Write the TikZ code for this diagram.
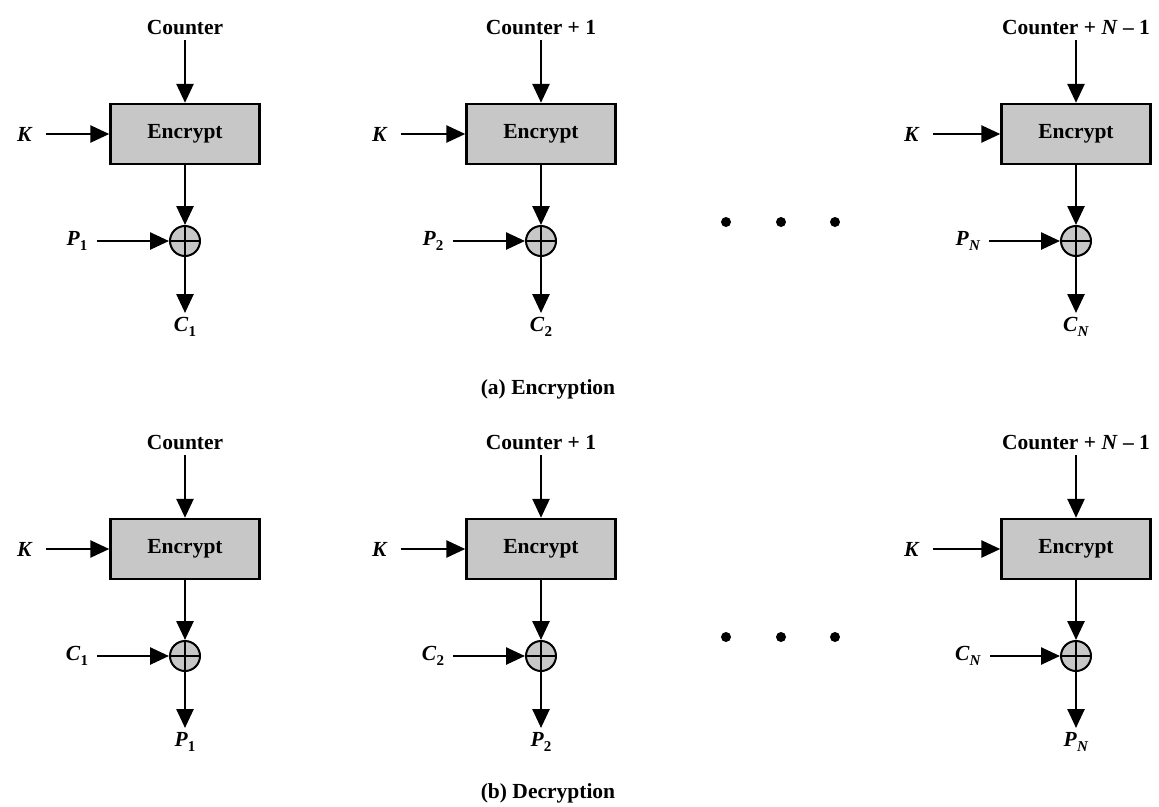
\documentclass[tikz,border=0pt]{standalone}
\usepackage{fontspec}
\setmainfont{Liberation Serif}
\usetikzlibrary{arrows.meta}
\begin{document}
\begin{tikzpicture}[x=1pt,y=-1pt,
  every node/.style={font=\fontsize{21.5}{24}\selectfont\bfseries},
  enc/.style={draw,line width=2.4pt,fill=black!22,minimum width=149pt,minimum height=60pt,inner sep=0pt},
  xorc/.style={draw,line width=2pt,fill=black!22,circle,minimum size=30pt,inner sep=0pt,path picture={
     \draw[line width=1.5pt] (path picture bounding box.north) -- (path picture bounding box.south)
       (path picture bounding box.west) -- (path picture bounding box.east);}},
  lbl/.style={inner sep=1pt},
  flow/.style={line width=2.6pt,-{Triangle[length=19pt,width=17pt]}},
  dot/.style={circle,fill=black,minimum size=10pt,inner sep=0pt}]
\useasboundingbox (0,0) rectangle (1159,806);
\foreach \pan/\dy/\inl/\outl in {a/0/P/C, b/415/C/P}{
  \foreach \col/\x/\ctr/\sub/\kx in {1/185/{Counter}/{1}/25, 2/541/{Counter + 1}/{2}/380, 3/1076/{Counter + \textit{N} – 1}/{\textit{N}}/912}{
    \node[enc] (box\pan\col) at (\x,134+\dy) {Encrypt};
    \node[lbl] (ctr\pan\col) at (\x,28+\dy) {\ctr};
    \node[lbl] (k\pan\col) at (\kx,134+\dy) {\textit{K}};
    \node[xorc] (x\pan\col) at (\x,241+\dy) {};
    \node[lbl] (in\pan\col) at (\x-108,241+\dy) {\textit{\inl}\raisebox{-0.25em}{\fontsize{15}{17}\selectfont\sub}};
    \node[lbl] (out\pan\col) at (\x,327+\dy) {\textit{\outl}\raisebox{-0.25em}{\fontsize{15}{17}\selectfont\sub}};
    \coordinate (oe\pan\col) at (\x,313+\dy);
    \draw[flow] (ctr\pan\col.south) ++(0,4) coordinate (c\pan\col) -- (box\pan\col.north);
    \draw[flow] (k\pan\col.east) ++(12,0) coordinate (kc\pan\col) -- (box\pan\col.west);
    \draw[flow] (box\pan\col.south) -- (x\pan\col.north);
    \draw[flow] (in\pan\col.east) ++(8,0) coordinate (ic\pan\col) -- (x\pan\col.west);
    \draw[flow] (x\pan\col.south) -- (oe\pan\col);
  }
  \node[dot] (d1\pan) at (726,222+\dy) {};
  \node[dot] (d2\pan) at (781,222+\dy) {};
  \node[dot] (d3\pan) at (835,222+\dy) {};
}
\node[lbl] (capa) at (548,389) {(a) Encryption};
\node[lbl] (capb) at (548,793) {(b) Decryption};
\end{tikzpicture}
\end{document}
